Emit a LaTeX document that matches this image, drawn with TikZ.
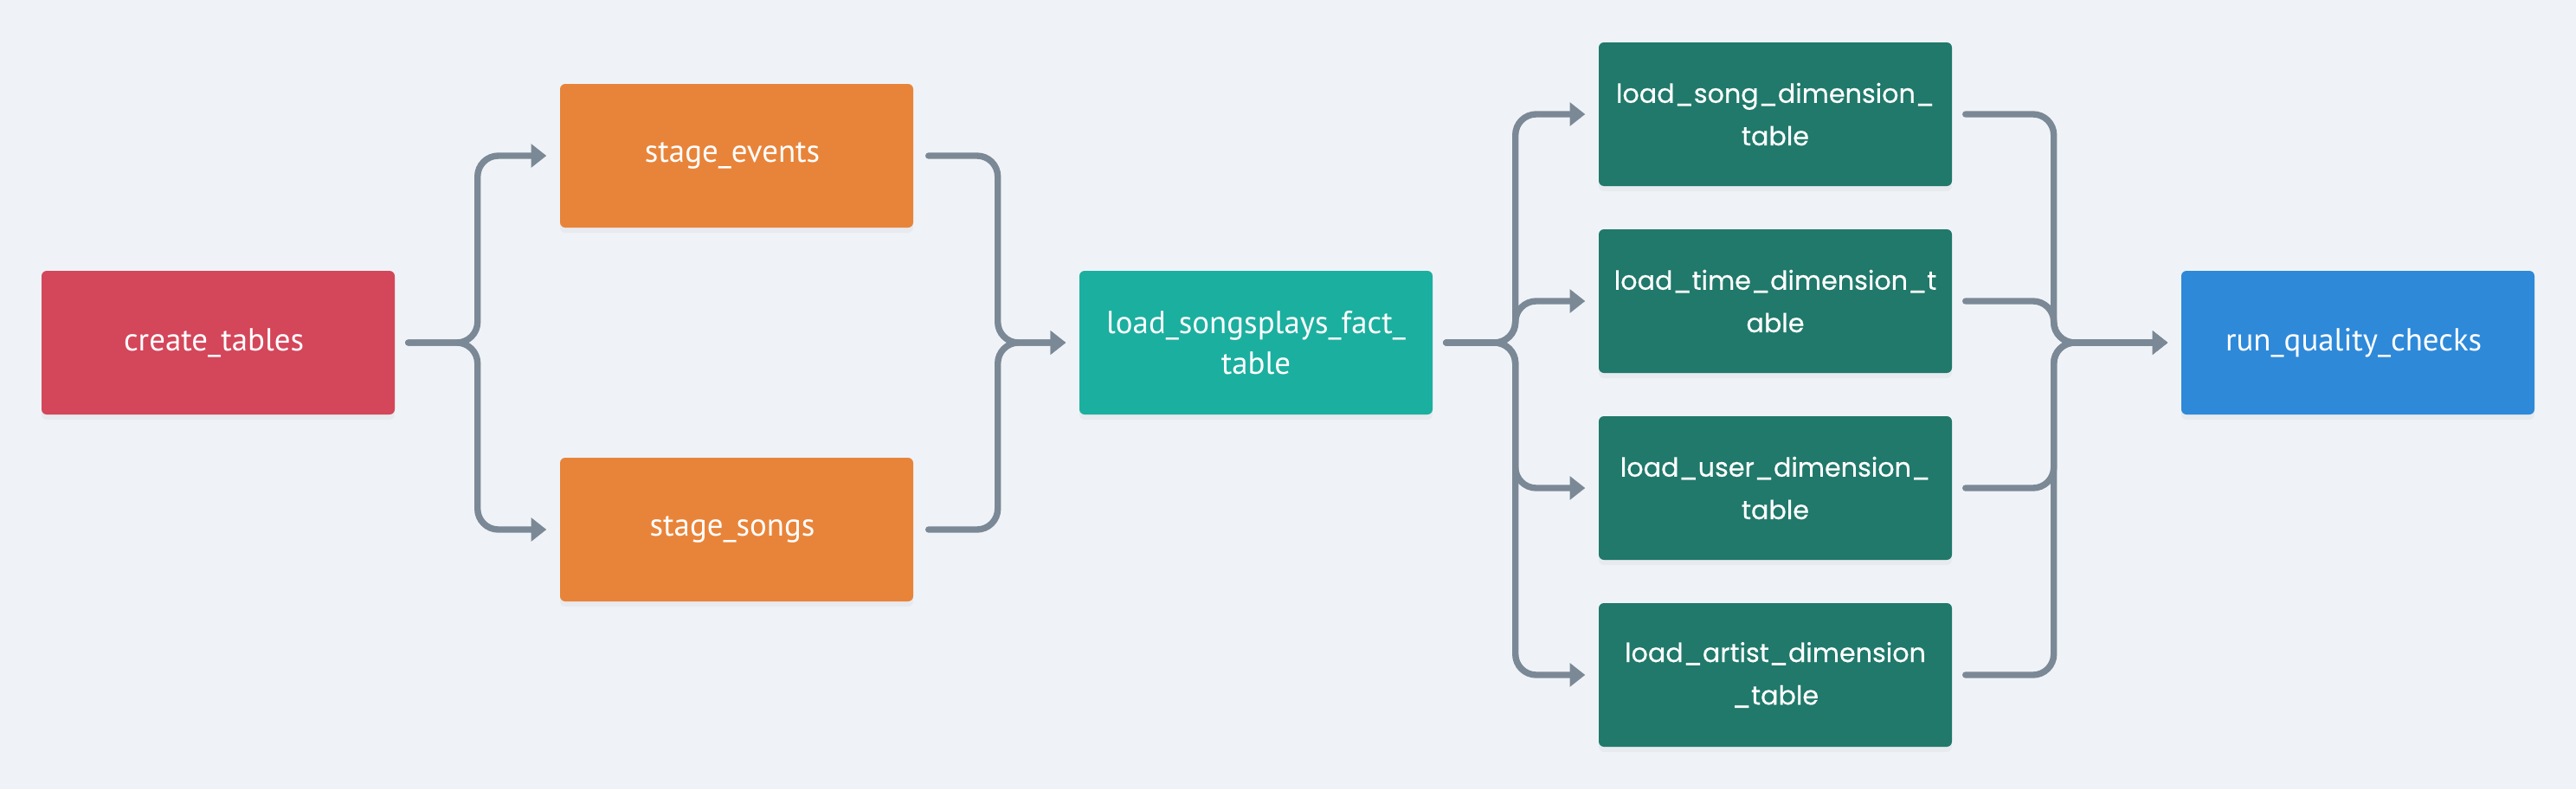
\documentclass[tikz,border=0pt]{standalone}
\usepackage{fontspec}
\setmainfont{PT Sans}
\newfontfamily\dimfont[FakeBold=0.5]{Poppins}
\usepackage{tikz}
\usetikzlibrary{arrows.meta,positioning,calc,shadows}

\definecolor{pagebg}{HTML}{EFF3F7}
\definecolor{flowgray}{HTML}{7B8896}
\definecolor{createred}{HTML}{D4465A}
\definecolor{stageorange}{HTML}{E8843A}
\definecolor{factteal}{HTML}{1BAF9F}
\definecolor{dimgreen}{HTML}{20796A}
\definecolor{checkblue}{HTML}{2E89D9}

\tikzset{
  task node/.style={
    rectangle,
    rounded corners=0.6mm,
    draw=none,
    fill=createred,
    minimum width=40.8mm,
    minimum height=16.6mm,
    inner sep=2pt,
    align=center,
    text=white,
    font=\fontsize{10.5}{13.5}\selectfont,
    drop shadow={opacity=0.07,shadow xshift=0pt,shadow yshift=-0.6mm}
  }
}
\tikzset{
  stage node/.style={
    task node,
    fill=stageorange
  }
}
\tikzset{
  fact node/.style={
    task node,
    fill=factteal
  }
}
\tikzset{
  dim node/.style={
    task node,
    fill=dimgreen,
    font=\dimfont\fontsize{8.6}{14}\selectfont
  }
}
\tikzset{
  check node/.style={
    task node,
    fill=checkblue
  }
}
\tikzset{
  flow/.style={
    -{Triangle[length=5pt,width=7.5pt]},
    draw=flowgray,
    line width=2.1pt,
    line cap=round,
    rounded corners=2.4mm
  }
}

\begin{document}
\begin{tikzpicture}

    % ------------------------------------------------------------
    % Canvas
    % ------------------------------------------------------------

    \fill[pagebg] (0,0) rectangle (29.76,-9.12);
    \useasboundingbox (0,0) rectangle (29.76,-9.12);

    % ------------------------------------------------------------
    % Nodes
    % ------------------------------------------------------------

    \node[task node] (create) at (2.52,-3.96)
    {
      create\_tables
    };

    \node[stage node] (stageEvents) at (8.51,-1.80)
    {
      stage\_events
    };

    \node[stage node] (stageSongs) at (8.51,-6.12)
    {
      stage\_songs
    };

    \node[fact node] (fact) at (14.51,-3.96)
    {
      load\_songsplays\_fact\_\\
      table
    };

    \node[dim node] (songDim) at (20.51,-1.32)
    {
      load\_song\_dimension\_\\
      table
    };

    \node[dim node] (timeDim) at (20.51,-3.48)
    {
      load\_time\_dimension\_t\\
      able
    };

    \node[dim node] (userDim) at (20.51,-5.64)
    {
      load\_user\_dimension\_\\
      table
    };

    \node[dim node] (artistDim) at (20.51,-7.80)
    {
      load\_artist\_dimension\\
      \_table
    };

    \node[check node] (quality) at (27.24,-3.96)
    {
      run\_quality\_checks
    };

    % ------------------------------------------------------------
    % Staging
    % ------------------------------------------------------------

    \draw[flow]
      ([xshift=1.5mm]create.east) -- ++(0.8,0)
      |- ([xshift=-1.5mm]stageEvents.west);

    \draw[flow]
      ([xshift=1.5mm]create.east) -- ++(0.8,0)
      |- ([xshift=-1.5mm]stageSongs.west);

    % ------------------------------------------------------------
    % Fact table
    % ------------------------------------------------------------

    \draw[flow]
      ([xshift=1.7mm]stageEvents.east) -- ++(0.8,0)
      |- ([xshift=-1.5mm]fact.west);

    \draw[flow]
      ([xshift=1.7mm]stageSongs.east) -- ++(0.8,0)
      |- ([xshift=-1.5mm]fact.west);

    % ------------------------------------------------------------
    % Dimension tables
    % ------------------------------------------------------------

    \draw[flow]
      ([xshift=1.5mm]fact.east) -- ++(0.8,0)
      |- ([xshift=-1.5mm]songDim.west);

    \draw[flow]
      ([xshift=1.5mm]fact.east) -- ++(0.8,0)
      |- ([xshift=-1.5mm]timeDim.west);

    \draw[flow]
      ([xshift=1.5mm]fact.east) -- ++(0.8,0)
      |- ([xshift=-1.5mm]userDim.west);

    \draw[flow]
      ([xshift=1.5mm]fact.east) -- ++(0.8,0)
      |- ([xshift=-1.5mm]artistDim.west);

    % ------------------------------------------------------------
    % Quality checks
    % ------------------------------------------------------------

    \draw[flow]
      ([xshift=1.5mm]songDim.east) -- ++(1.02,0)
      |- ([xshift=-1.5mm]quality.west);

    \draw[flow]
      ([xshift=1.5mm]timeDim.east) -- ++(1.02,0)
      |- ([xshift=-1.5mm]quality.west);

    \draw[flow]
      ([xshift=1.5mm]userDim.east) -- ++(1.02,0)
      |- ([xshift=-1.5mm]quality.west);

    \draw[flow]
      ([xshift=1.5mm]artistDim.east) -- ++(1.02,0)
      |- ([xshift=-1.5mm]quality.west);

    \end{tikzpicture}
\end{document}
